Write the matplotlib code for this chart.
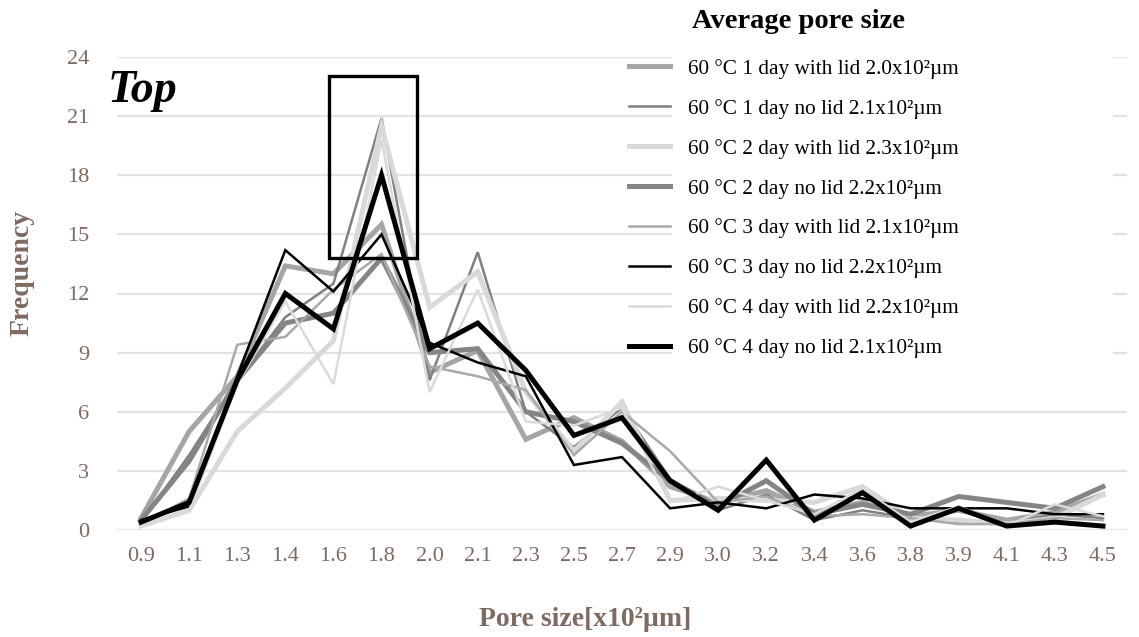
import matplotlib
matplotlib.use("Agg")
import matplotlib.pyplot as plt
from matplotlib.patches import Rectangle

plt.rcParams['font.family'] = ['Liberation Serif', 'DejaVu Serif']

# Pore size classes (x10^2 um)
pore_sizes = ["0.9", "1.1", "1.3", "1.4", "1.6", "1.8", "2.0", "2.1", "2.3", "2.5", "2.7",
              "2.9", "3.0", "3.2", "3.4", "3.6", "3.8", "3.9", "4.1", "4.3", "4.5"]

# Frequencies per drying condition
d1_lid   = [0.6, 5.0, 7.8, 13.4, 13.0, 15.5, 8.0, 9.1, 4.6, 5.7, 4.5, 2.2, 1.4, 2.0, 0.9, 1.4, 0.7, 1.0, 0.5, 0.9, 1.8]
d1_open  = [0.4, 3.8, 7.6, 10.8, 12.5, 20.9, 7.6, 14.1, 6.0, 4.2, 6.2, 2.6, 1.0, 1.8, 0.5, 1.0, 0.6, 0.4, 0.3, 0.8, 0.6]
d2_lid   = [0.2, 1.0, 5.0, 7.2, 9.6, 20.5, 11.3, 13.1, 7.0, 4.0, 6.5, 1.5, 1.6, 1.5, 1.4, 2.2, 0.6, 0.5, 0.3, 0.6, 1.8]
d2_open  = [0.5, 3.5, 7.6, 10.5, 11.0, 13.8, 9.0, 9.2, 6.0, 5.5, 4.4, 2.5, 1.2, 2.5, 0.8, 1.3, 0.8, 1.7, 1.4, 1.1, 2.2]
d3_lid   = [0.3, 1.6, 9.4, 9.8, 12.2, 14.0, 8.3, 7.8, 7.1, 3.8, 6.0, 4.0, 1.4, 1.7, 0.7, 0.8, 0.6, 0.3, 0.3, 0.6, 0.5]
d3_open  = [0.5, 1.2, 7.8, 14.2, 12.1, 15.0, 9.5, 8.5, 7.8, 3.3, 3.7, 1.1, 1.4, 1.1, 1.8, 1.6, 1.1, 1.1, 1.1, 0.8, 0.8]
d4_lid   = [0.2, 1.0, 7.4, 11.6, 7.4, 19.8, 7.0, 12.2, 5.5, 5.3, 6.2, 1.4, 2.2, 1.5, 0.8, 2.1, 0.4, 1.2, 0.2, 1.3, 0.7]
d4_open  = [0.4, 1.4, 7.6, 12.0, 10.2, 18.0, 9.2, 10.5, 8.1, 4.8, 5.7, 2.5, 1.0, 3.55, 0.5, 1.9, 0.2, 1.1, 0.2, 0.4, 0.2]

labels = [
    "60 °C 1 day with lid 2.0x10²µm",
    "60 °C 1 day no lid 2.1x10²µm",
    "60 °C 2 day with lid 2.3x10²µm",
    "60 °C 2 day no lid 2.2x10²µm",
    "60 °C 3 day with lid 2.1x10²µm",
    "60 °C 3 day no lid 2.2x10²µm",
    "60 °C 4 day with lid 2.2x10²µm",
    "60 °C 4 day no lid 2.1x10²µm",
]
series = [d1_lid, d1_open, d2_lid, d2_open, d3_lid, d3_open, d4_lid, d4_open]
colors = ["#a5a5a5", "#808080", "#d9d9d9", "#858585", "#a9a9a9", "#000000", "#dadada", "#000000"]
widths = [3.6, 1.8, 3.6, 3.6, 1.8, 1.8, 1.8, 3.6]

brown = "#7d6a60"

fig = plt.figure(figsize=(11.39, 6.37), dpi=100)
ax = fig.add_axes([117 / 1139, 1 - 530 / 637, 1010 / 1139, 473 / 637])

x = list(range(len(pore_sizes)))
handles = []
for ys, c, w, lab in zip(series, colors, widths, labels):
    h, = ax.plot(x, ys, color=c, lw=w, label=lab, solid_joinstyle='miter', zorder=3)
    handles.append(h)

ax.set_xlim(-0.5, len(pore_sizes) - 0.5)
ax.set_ylim(0, 24)
ax.set_yticks(range(0, 25, 3))
ax.set_xticks(x)
ax.set_xticklabels(pore_sizes)
ax.grid(axis='y', color='#e8e2de', lw=1.6, zorder=0)
ax.grid(axis='x', visible=False)
for s in ax.spines.values():
    s.set_visible(False)
ax.tick_params(axis='both', length=0, labelsize=16, labelcolor=brown)
ax.tick_params(axis='y', pad=20)
ax.tick_params(axis='x', pad=12)

# Highlight box around the peak class
ax.add_patch(Rectangle((3.9, 13.8), 1.83, 9.25, fill=False, ec='black', lw=2.4, zorder=5))

ax.text(-0.7, 22.25, "Top", fontsize=33, fontweight='bold', fontstyle='italic',
        ha='left', va='center', color='black')

fig.text(585 / 1139, 1 - 619 / 637, "Pore size[x10²µm]", fontsize=20, fontweight='bold',
         color=brown, ha='center', va='center')
fig.text(22 / 1139, 1 - 273 / 637, "Frequency", fontsize=20, fontweight='bold',
         color=brown, ha='center', va='center', rotation=90)

# White panel behind the legend text
fig.add_artist(Rectangle((672 / 1139, 1 - 360 / 637), (1113 - 672) / 1139, 360 / 637,
                         transform=fig.transFigure, fc='white', ec='none', zorder=1))

fig.text(798 / 1139, 1 - 21 / 637, "Average pore size", fontsize=20.5, fontweight='bold',
         color='black', ha='center', va='center', zorder=3)

leg = fig.legend(handles=handles, loc='upper left', bbox_to_anchor=(629 / 1139, 1 - 59 / 637),
                 frameon=False, fontsize=15.3, borderpad=0,
                 handlelength=1.93, handletextpad=0.85, labelspacing=0.94, borderaxespad=0)
leg.set_zorder(2)

fig.savefig("out.png", dpi=100)
